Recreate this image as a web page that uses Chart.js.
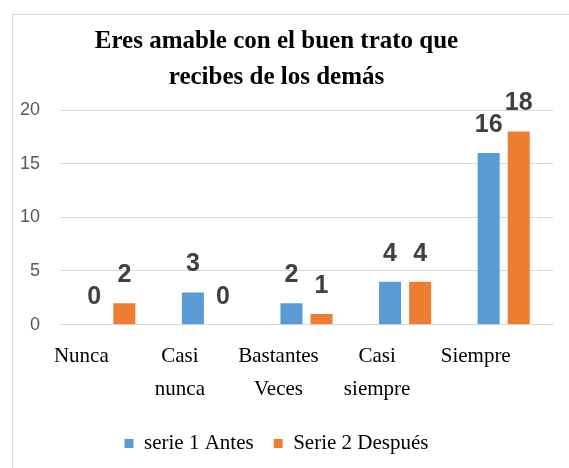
<!DOCTYPE html>
<html>
<head>
<meta charset="utf-8">
<script src="https://cdn.jsdelivr.net/npm/chart.js@4.4.1/dist/chart.umd.min.js"></script>
<style>
  html, body { margin: 0; padding: 0; background: #fff; }
  #frame { position: absolute; left: 12px; top: 14px; width: 600px; height: 500px;
           border-left: 1px solid #d9d9d9; border-top: 1px solid #d9d9d9; }
  #wrap { position: absolute; left: 0; top: 0; width: 569px; height: 468px; }
</style>
</head>
<body>
<div id="frame"></div>
<div id="wrap"><canvas id="c" width="569" height="468"></canvas></div>
<script>
const categories = [["Nunca"], ["Casi", "nunca"], ["Bastantes", "Veces"], ["Casi", "siempre"], ["Siempre"]];
const serie1Antes = [0, 3, 2, 4, 16];
const serie2Despues = [2, 0, 1, 4, 18];
const seriesNames = ["serie 1 Antes", "Serie 2 Después"];
const yTicks = [0, 5, 10, 15, 20];
const titleLines = ["Eres amable con el buen trato que", "recibes de los demás"];

const valueLabels = {
  id: 'valueLabels',
  afterDatasetsDraw(chart) {
    const ctx = chart.ctx;
    ctx.save();
    ctx.font = "bold 25px 'Liberation Sans Narrow', 'Liberation Sans', sans-serif";
    ctx.fillStyle = '#404040';
    ctx.textAlign = 'center';
    ctx.textBaseline = 'alphabetic';
    chart.data.datasets.forEach((ds, i) => {
      const meta = chart.getDatasetMeta(i);
      meta.data.forEach((bar, j) => {
        ctx.fillText(String(ds.data[j]), bar.x, bar.y - 21);
      });
    });
    ctx.restore();
  }
};

new Chart(document.getElementById('c'), {
  type: 'bar',
  data: {
    labels: categories,
    datasets: [
      { label: seriesNames[0], data: serie1Antes, backgroundColor: '#5B9BD5',
        categoryPercentage: 0.61, barPercentage: 0.733 },
      { label: seriesNames[1], data: serie2Despues, backgroundColor: '#ED7D31',
        categoryPercentage: 0.61, barPercentage: 0.733 }
    ]
  },
  options: {
    responsive: false,
    animation: false,
    layout: { padding: { left: 0, right: 16, top: 0, bottom: 4 } },
    plugins: {
      title: {
        display: true,
        text: titleLines,
        color: '#000',
        font: { family: "'Liberation Serif', serif", size: 25, weight: 'bold', lineHeight: 1.44 },
        padding: { top: 24, bottom: 14 }
      },
      legend: {
        position: 'bottom',
        labels: {
          boxWidth: 9, boxHeight: 9, color: '#000', padding: 20,
          font: { family: "'Liberation Serif', serif", size: 21 }
        }
      },
      tooltip: { enabled: false }
    },
    scales: {
      x: {
        grid: { display: false },
        border: { display: true, color: '#d9d9d9', width: 1 },
        ticks: {
          color: '#000', padding: 7, maxRotation: 0, autoSkip: false, labelOffset: -28,
          font: { family: "'Liberation Serif', serif", size: 21, lineHeight: 1.58 }
        }
      },
      y: {
        min: 0, max: 20,
        afterBuildTicks(scale) { scale.ticks = yTicks.map(v => ({ value: v })); },
        grid: { color: '#d9d9d9', drawTicks: false },
        border: { display: false },
        ticks: {
          color: '#595959', padding: 20,
          font: { family: "'Liberation Sans', sans-serif", size: 18 }
        }
      }
    }
  },
  plugins: [valueLabels]
});
</script>
</body>
</html>
